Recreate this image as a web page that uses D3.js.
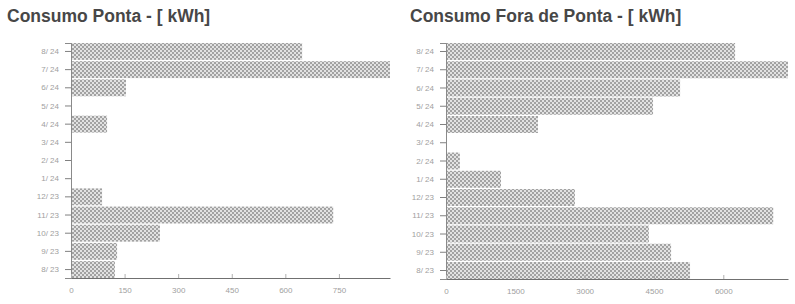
<!DOCTYPE html>
<meta charset="utf-8">
<style>
  body { margin: 0; background: #fff; }
  .title { font: bold 17.5px "Liberation Sans", Arial, sans-serif; fill: #474747; }
  .tick text { font: 8px "Liberation Sans", Arial, sans-serif; fill: #a0a0a0; }
</style>
<body>
<svg id="chart" width="795" height="304"></svg>
<script src="https://cdn.jsdelivr.net/npm/d3@7"></script>
<script>
  // months, top to bottom
  const months = ["8/ 24", "7/ 24", "6/ 24", "5/ 24", "4/ 24", "3/ 24", "2/ 24", "1/ 24",
                  "12/ 23", "11/ 23", "10/ 23", "9/ 23", "8/ 23"];
  const ponta = [647, 893, 154, 2, 101, 0, 0, 0, 87, 734, 249, 129, 123];
  const foraPonta = [6255, 7400, 5065, 4480, 1990, 0, 300, 1190, 2790, 7080, 4390, 4870, 5280];
  const pontaTicks = [0, 150, 300, 450, 600, 750];
  const foraTicks = [0, 1500, 3000, 4500, 6000];

  const svg = d3.select("#chart");

  // dotted fill like the printed bars
  const pat = svg.append("defs").append("pattern")
    .attr("id", "dots")
    .attr("width", 4).attr("height", 4)
    .attr("patternUnits", "userSpaceOnUse");
  pat.append("rect").attr("width", 4).attr("height", 4).attr("fill", "#e2e2e2");
  pat.append("rect").attr("width", 2).attr("height", 2).attr("fill", "#a2a2a2");
  pat.append("rect").attr("x", 2).attr("y", 2).attr("width", 2).attr("height", 2).attr("fill", "#a2a2a2");

  function drawChart(opts) {
    const g = svg.append("g");

    const y = d3.scaleBand()
      .domain(months)
      .range([opts.top, opts.bottom])
      .paddingInner(0.07);

    const x = d3.scaleLinear()
      .domain([0, opts.max])
      .range([opts.left, opts.right]);

    g.append("text")
      .attr("class", "title")
      .attr("x", opts.titleX)
      .attr("y", 22)
      .text(opts.title);

    g.selectAll("rect.bar")
      .data(opts.values)
      .enter().append("rect")
      .attr("class", "bar")
      .attr("x", x(0))
      .attr("y", (d, i) => y(months[i]))
      .attr("width", d => Math.max(0, x(Math.min(d, opts.max)) - x(0)))
      .attr("height", y.bandwidth())
      .attr("fill", "url(#dots)");

    const yAxis = g.append("g")
      .attr("transform", `translate(${opts.left},0)`)
      .call(d3.axisLeft(y).tickSize(6).tickPadding(6));
    yAxis.select(".domain").attr("stroke", "#8a8a8a");
    yAxis.selectAll(".tick line").attr("stroke", "#808080");

    const xAxis = g.append("g")
      .attr("transform", `translate(0,${opts.axisY})`)
      .call(d3.axisBottom(x).tickValues(opts.ticks).tickFormat(d3.format("d"))
        .tickSize(-4).tickPadding(9).tickSizeOuter(0));
    xAxis.select(".domain").attr("stroke", "#707070");
    xAxis.selectAll(".tick line").attr("stroke", "#b0b0b0");
  }

  drawChart({
    title: "Consumo Ponta - [ kWh]", titleX: 7,
    values: ponta, ticks: pontaTicks, max: 893,
    left: 71, right: 390, top: 43, bottom: 278, axisY: 278
  });

  drawChart({
    title: "Consumo Fora de Ponta - [ kWh]", titleX: 410,
    values: foraPonta, ticks: foraTicks, max: 7400,
    left: 446, right: 788, top: 43, bottom: 279, axisY: 279
  });
</script>
</body>
